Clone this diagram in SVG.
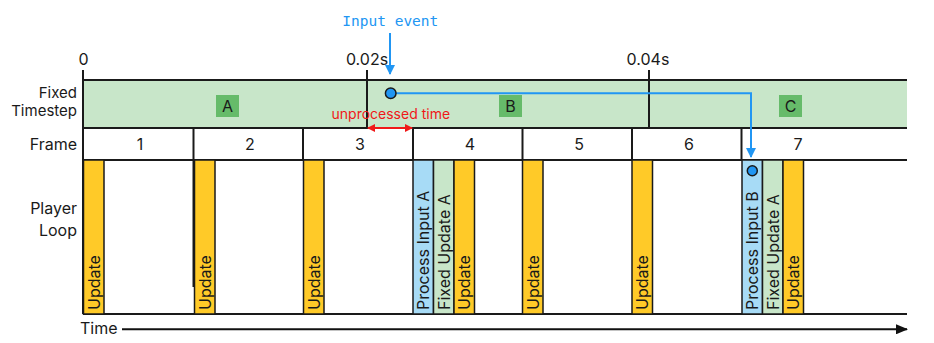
<svg xmlns="http://www.w3.org/2000/svg" width="934" height="343" viewBox="0 0 934 343">
<style>
  .lbl{font-family:Inter,"Noto Sans","Liberation Sans",sans-serif;font-size:16px;fill:#1a1a1a}
  .sm{font-size:15px}
  .r{text-anchor:end}
  .c{text-anchor:middle}
  .ln{stroke:#1a1a1a;stroke-width:2;fill:none}
  .bar{stroke:#1a1a1a;stroke-width:1.5}
  .upd{fill:#ffca28}
  .pin{fill:#a7dbf6}
  .fix{fill:#c8e6c9}
  .tag{fill:#66bb6a}
  .blue{stroke:#2196f3;stroke-width:2;fill:none}
  .dot{fill:#2196f3;stroke:#1a1a1a;stroke-width:1.5}
</style>
<defs>
  <marker id="ab" markerWidth="10" markerHeight="10" refX="9" refY="5" orient="auto" markerUnits="userSpaceOnUse">
    <path d="M0,0 L10,5 L0,10 z" fill="#2196f3"/>
  </marker>
  <marker id="ar" markerWidth="8" markerHeight="8" refX="7" refY="4" orient="auto-start-reverse" markerUnits="userSpaceOnUse">
    <path d="M0,0 L8,4 L0,8 z" fill="#f01818"/>
  </marker>
  <marker id="ak" markerWidth="12" markerHeight="10" refX="11" refY="5" orient="auto" markerUnits="userSpaceOnUse">
    <path d="M0,0 L12,5 L0,10 z" fill="#111"/>
  </marker>
</defs>

<g id="row-labels">
  <text class="lbl sm r" x="77" y="98">Fixed</text>
  <text class="lbl sm r" x="77" y="116">Timestep</text>
  <text class="lbl r" x="77" y="150">Frame</text>
  <text class="lbl r" x="77" y="214">Player</text>
  <text class="lbl r" x="77" y="236">Loop</text>
</g>

<g id="fixed-timestep">
  <rect x="83" y="80" width="824" height="48" class="fix"/>
  <line x1="83" y1="80" x2="907" y2="80" class="ln"/>
  <line x1="83" y1="128" x2="907" y2="128" class="ln"/>
  <g id="step-A"><rect x="216" y="95" width="23" height="22" class="tag"/><text class="lbl c" x="227.5" y="112">A</text></g>
  <g id="step-B"><rect x="499" y="95" width="23" height="22" class="tag"/><text class="lbl c" x="510.5" y="112">B</text></g>
  <g id="step-C"><rect x="779" y="95" width="23" height="22" class="tag"/><text class="lbl c" x="790.5" y="112">C</text></g>
</g>

<g id="ticks">
  <line x1="83" y1="70" x2="83" y2="314" class="ln"/>
  <text class="lbl c" x="83.5" y="65">0</text>
  <line x1="367" y1="70" x2="367" y2="129" class="ln"/>
  <text class="lbl c" x="367" y="65">0.02s</text>
  <line x1="649" y1="70" x2="649" y2="128" class="ln"/>
  <text class="lbl c" x="648" y="65">0.04s</text>
</g>

<g id="frames">
  <line x1="83" y1="160" x2="907" y2="160" class="ln"/>
  <line x1="83" y1="314" x2="907" y2="314" class="ln"/>
  <line x1="193.5" y1="128" x2="193.5" y2="287" class="ln"/>
  <line x1="303" y1="128" x2="303" y2="160" class="ln"/>
  <line x1="413" y1="128" x2="413" y2="160" class="ln"/>
  <line x1="522.5" y1="128" x2="522.5" y2="160" class="ln"/>
  <line x1="632" y1="128" x2="632" y2="160" class="ln"/>
  <line x1="741.5" y1="128" x2="741.5" y2="160" class="ln"/>
  <text class="lbl c" x="140" y="150">1</text>
  <text class="lbl c" x="250" y="150">2</text>
  <text class="lbl c" x="360" y="150">3</text>
  <text class="lbl c" x="470" y="150">4</text>
  <text class="lbl c" x="579" y="150">5</text>
  <text class="lbl c" x="689" y="150">6</text>
  <text class="lbl c" x="798" y="150">7</text>
</g>

<g id="bar-f1"><rect x="83.5" y="160" width="20.5" height="154" class="bar upd"/><text class="lbl" transform="translate(99.5,310) rotate(-90)">Update</text></g>
<g id="bar-f2"><rect x="194.5" y="160" width="20.5" height="154" class="bar upd"/><text class="lbl" transform="translate(210.5,310) rotate(-90)">Update</text></g>
<g id="bar-f3"><rect x="303.5" y="160" width="20.5" height="154" class="bar upd"/><text class="lbl" transform="translate(319.5,310) rotate(-90)">Update</text></g>
<g id="bar-f4-input"><rect x="413" y="160" width="20.5" height="154" class="bar pin"/><text class="lbl" transform="translate(429,310) rotate(-90)">Process Input A</text></g>
<g id="bar-f4-fixed"><rect x="433.5" y="160" width="20.5" height="154" class="bar fix"/><text class="lbl" transform="translate(449.5,310) rotate(-90)">Fixed Update A</text></g>
<g id="bar-f4-update"><rect x="454" y="160" width="20.5" height="154" class="bar upd"/><text class="lbl" transform="translate(470,310) rotate(-90)">Update</text></g>
<g id="bar-f5"><rect x="522.5" y="160" width="20.5" height="154" class="bar upd"/><text class="lbl" transform="translate(538.5,310) rotate(-90)">Update</text></g>
<g id="bar-f6"><rect x="632" y="160" width="20.5" height="154" class="bar upd"/><text class="lbl" transform="translate(648,310) rotate(-90)">Update</text></g>
<g id="bar-f7-input"><rect x="742" y="160" width="20.5" height="154" class="bar pin"/><text class="lbl" transform="translate(758,310) rotate(-90)">Process Input B</text><circle cx="752.3" cy="170.7" r="5" class="dot"/></g>
<g id="bar-f7-fixed"><rect x="762.5" y="160" width="20.5" height="154" class="bar fix"/><text class="lbl" transform="translate(778.5,310) rotate(-90)">Fixed Update A</text></g>
<g id="bar-f7-update"><rect x="783" y="160" width="20.5" height="154" class="bar upd"/><text class="lbl" transform="translate(799,310) rotate(-90)">Update</text></g>

<g id="input-event">
  <text x="390.3" y="26" text-anchor="middle" style="font-family:'DejaVu Sans Mono','Liberation Mono',monospace;font-size:14.5px;fill:#2196f3">Input event</text>
</g>

<g id="connectors">
  <line x1="390" y1="33" x2="390" y2="74" class="blue" marker-end="url(#ab)"/>
  <path d="M390.7,93.3 H751 V157" class="blue" marker-end="url(#ab)"/>
  <line x1="368" y1="128" x2="412" y2="128" stroke="#f01818" stroke-width="2" marker-start="url(#ar)" marker-end="url(#ar)"/>
  <line x1="122" y1="329.3" x2="907" y2="329.3" stroke="#111" stroke-width="2" marker-end="url(#ak)"/>
</g>

<g id="event-dot"><circle cx="390.7" cy="93.3" r="5.3" class="dot"/></g>

<g id="annotations">
  <text x="390.8" y="118.5" text-anchor="middle" style="font-family:Inter,'Noto Sans','Liberation Sans',sans-serif;font-size:14px;fill:#f01818">unprocessed time</text>
  <text class="lbl" x="80" y="334">Time</text>
</g>
</svg>
